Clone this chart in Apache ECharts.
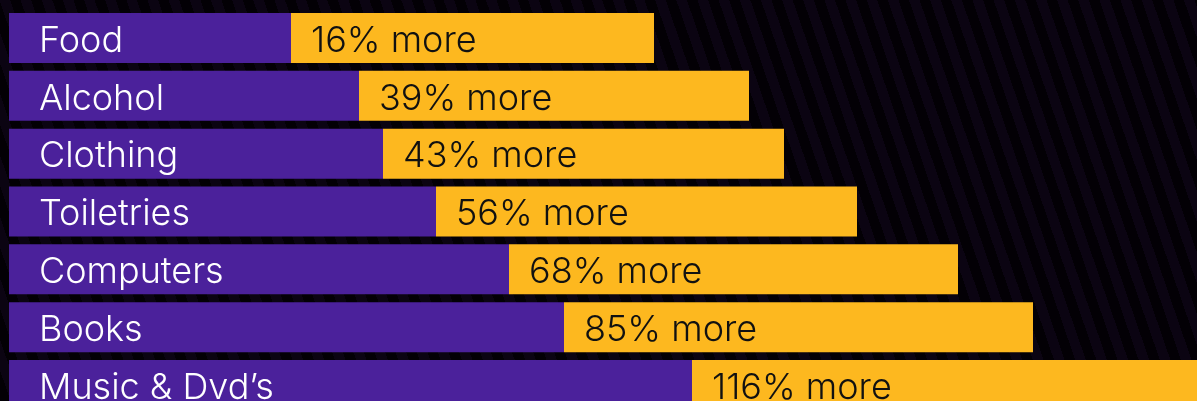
<!DOCTYPE html>
<html>
<head>
<meta charset="utf-8">
<script src="https://cdn.jsdelivr.net/npm/echarts@6/dist/echarts.min.js"></script>
<style>
  html, body { margin: 0; padding: 0; }
  body {
    width: 1197px; height: 401px; overflow: hidden;
    background: repeating-linear-gradient(71deg, #030005 0px, #030005 10px, #0b0412 10px, #0b0412 20px);
  }
  #main { width: 1197px; height: 401px; }
</style>
</head>
<body>
<div id="main"></div>
<script>
var categories = ['Food', 'Alcohol', 'Clothing', 'Toiletries', 'Computers', 'Books', 'Music & Dvd\u2019s'];
// length of the purple part and of the yellow part
var baseValues = [282, 350, 374, 427, 500, 555, 683];
var extraValues = [363, 390, 401, 421, 449, 469, 600];
var percentMore = [16, 39, 43, 56, 68, 85, 116];

var chart = echarts.init(document.getElementById('main'));

var option = {
    backgroundColor: 'transparent',
    animation: false,
    grid: {
        left: 9,
        right: 0,
        top: 9,
        height: 405,
        outerBoundsMode: 'none'
    },
    xAxis: {
        type: 'value',
        min: 0,
        max: 1188,
        show: false
    },
    yAxis: {
        type: 'category',
        data: categories,
        inverse: true,
        show: false
    },
    series: [
        {
            type: 'bar',
            stack: 'total',
            barWidth: 50,
            data: baseValues,
            itemStyle: { color: '#4b219b' },
            label: {
                show: true,
                position: 'insideLeft',
                distance: 30,
                offset: [0, 3],
                color: '#ffffff',
                fontFamily: 'Inter',
                fontWeight: 300,
                fontSize: 36,
                formatter: function (p) { return categories[p.dataIndex]; }
            }
        },
        {
            type: 'bar',
            stack: 'total',
            barWidth: 50,
            data: extraValues,
            itemStyle: { color: '#fdb81f' },
            label: {
                show: true,
                position: 'insideLeft',
                distance: 20,
                offset: [0, 3],
                color: '#111111',
                fontFamily: 'Inter',
                fontWeight: 300,
                fontSize: 36,
                formatter: function (p) { return percentMore[p.dataIndex] + '% more'; }
            }
        }
    ]
};

chart.setOption(option);
</script>
</body>
</html>
